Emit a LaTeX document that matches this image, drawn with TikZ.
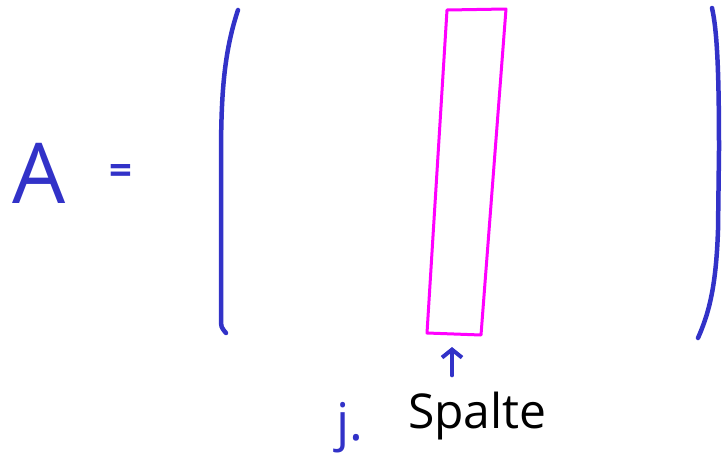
\documentclass[tikz,border=0pt]{standalone}
\usepackage{fontspec}
\setsansfont{Open Sans}
\usetikzlibrary{arrows.meta,positioning,calc}
\definecolor{pen}    {RGB}{50,50,200}
\definecolor{marker} {RGB}{255,0,255}

\begin{document}
\begin{tikzpicture}[x=1pt,y=-1pt,font=\sffamily,
    stroke/.style={line width=4.5pt,line cap=round,line join=round}]
  \useasboundingbox (0,0) rectangle (725,461);
  % left hand side
  \node[pen,anchor=base west,inner sep=0pt,font=\sffamily\fontsize{84}{84}\selectfont]
    (lhs) at (12,203) {A};
  \node[pen,font=\sffamily\bfseries\fontsize{40}{40}\selectfont] (eq) at (121,174) {=};
  % brackets
  \draw[stroke,pen] (238,10) .. controls (223,55) and (221,100) .. (221,160)
    -- (221,318) .. controls (221,327) .. (226,333);
  \draw[stroke,pen] (712,8) .. controls (717,30) and (719,70) .. (719,150)
    -- (718,230) .. controls (716,290) and (708,315) .. (698,338);
  % the column
  \coordinate (ctl) at (447,10);
  \coordinate (ctr) at (506,9);
  \coordinate (cbr) at (481,335);
  \coordinate (cbl) at (427,333);
  \draw[line width=3pt,line join=round,marker] (ctl) -- (ctr) -- (cbr) -- (cbl) -- cycle;
  \coordinate (tip) at (452,347);
  % label
  \node[anchor=base west,inner sep=0pt,font=\sffamily\fontsize{48}{48}\selectfont]
    (lbl) at (408,428) {Spalte};
  \node[pen,anchor=base west,inner sep=0pt,font=\sffamily\fontsize{52}{52}\selectfont]
    (idx) at (336,440) {j.};
  \draw[pen,line width=4pt,line cap=round,
    -{Straight Barb[length=8pt,width=20pt,line width=4pt]},
    shorten <=16pt] (lbl.north -| tip) -- (tip);
\end{tikzpicture}
\end{document}
